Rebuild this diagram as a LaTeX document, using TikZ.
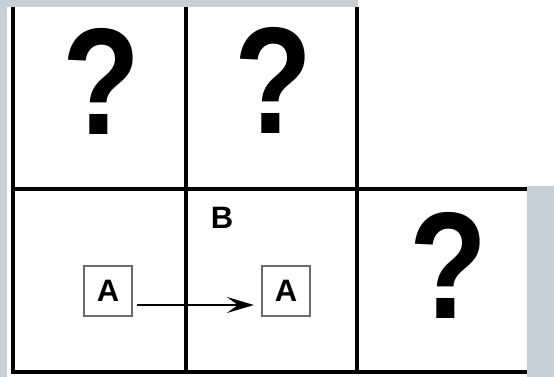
\documentclass[tikz,border=0pt]{standalone}
\usepackage{fontspec}
\setmainfont{Liberation Sans}
\usetikzlibrary{arrows.meta}
\definecolor{frame}{RGB}{197,208,216}

\begin{document}
\begin{tikzpicture}
    [
      x=1pt, y=-1pt,
      Grid/.style={line width=3.8pt, black},
      Mark/.style={inner sep=0pt, xscale=0.84, transform shape, font=\fontsize{152}{152}\selectfont\bfseries},
      Box/.style={rectangle, draw=black!58, line width=2.2pt, fill=white, inner sep=0pt,
                  minimum width=48pt, minimum height=50pt, font=\fontsize{31}{31}\selectfont\bfseries},
      Label/.style={inner sep=0pt, font=\fontsize{31}{31}\selectfont\bfseries},
    ]

    % Page and border strips
    \useasboundingbox (0,0) rectangle (554,377);
    \fill[white] (0,0) rectangle (554,377);
    \fill[frame] (0,0) rectangle (358,7);
    \fill[frame] (0,0) rectangle (7,377);
    \fill[frame] (527,186) rectangle (554,377);

    % Grid
    \draw[Grid] (13,7) -- (13,374);
    \draw[Grid] (186,7) -- (186,374);
    \draw[Grid] (357,7) -- (357,374);
    \draw[Grid] (11,189) -- (527,189);
    \draw[Grid] (11,372) -- (527,372);

    % Nodes
    \node[Mark] (q1) at (101,81) {?};
    \node[Mark] (q2) at (273,80) {?};
    \node[Mark] (q3) at (448,265) {?};

    \node[Label] (b) at (222,218) {B};
    \node[Box] (a1) at (108,291) {A};
    \node[Box] (a2) at (286,291) {A};

    % Lines
    \path[-{Stealth[length=27pt, width=16pt, inset=11pt]}, draw, line width=2.6pt,
          shorten <=4pt, shorten >=7pt]
      ([yshift=-14pt]a1.east) -- ([yshift=-14pt]a2.west);

\end{tikzpicture}
\end{document}
